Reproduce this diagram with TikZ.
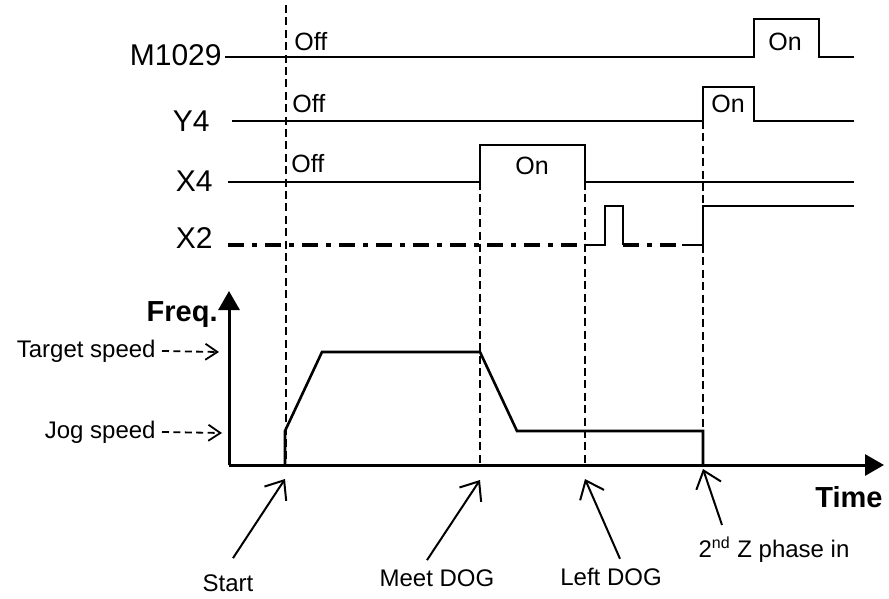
\documentclass[tikz,border=0pt]{standalone}
\usepackage{fontspec}
\setmainfont{Liberation Sans}
\usetikzlibrary{arrows.meta, positioning}

\begin{document}
\begin{tikzpicture}[
    x=0.5pt, y=-0.5pt,
    sig/.style={line width=1.1pt},
    axis/.style={line width=1.5pt, -{Triangle[length=9.5pt, width=10.5pt]}},
    guide/.style={line width=0.9pt, dash pattern=on 4pt off 2.2pt},
    dashdot/.style={line width=1.7pt, dash pattern=on 8pt off 4pt on 2.5pt off 4pt},
    pointer/.style={line width=1pt, -{Straight Barb[length=8pt, width=13pt]}},
    hint/.style={line width=0.9pt, dash pattern=on 3.5pt off 2.2pt, -{Straight Barb[length=6pt, width=8pt]}},
    signame/.style={font=\fontsize{15}{18}\selectfont, anchor=east, inner sep=0pt},
    state/.style={font=\fontsize{12.5}{14}\selectfont, inner sep=0pt},
    lbl/.style={font=\fontsize{12}{14}\selectfont, inner sep=0pt},
    axlbl/.style={font=\bfseries\fontsize{14.5}{17}\selectfont, anchor=east, inner sep=0pt}
]
\useasboundingbox (0,0) rectangle (889,599);

% signal names
\node[signame] (m1029) at (222,55) {M1029};
\node[signame] (y4) at (210,121) {Y4};
\node[signame] (x4) at (213,181) {X4};
\node[signame] (x2) at (213,238) {X2};

% states
\node[state, anchor=west] (m1029off) at (294,42) {Off};
\node[state, anchor=west] (y4off) at (292,104) {Off};
\node[state, anchor=west] (x4off) at (291,164) {Off};
\node[state] (m1029on) at (785,42) {On};
\node[state] (y4on) at (728,104) {On};
\node[state] (x4on) at (532,166) {On};

% time lines
\draw[guide] (286,5) -- (286,465);
\draw[guide] (480,182) -- (480,465);
\draw[guide] (585,182) -- (585,465);
\draw[guide] (703,121) -- (703,465);

% signals
\draw[sig] (225,57) -- (754,57) -- (754,19) -- (819,19) -- (819,57) -- (854,57);
\draw[sig] (232,121) -- (703,121) -- (703,87) -- (754,87) -- (754,121) -- (854,121);
\draw[sig] (228,182) -- (480,182) -- (480,145) -- (585,145) -- (585,182) -- (854,182);
\draw[dashdot] (228,245) -- (585,245);
\draw[sig] (585,245) -- (605,245) -- (605,206) -- (623,206) -- (623,245);
\draw[dashdot] (623,245) -- (682,245);
\draw[sig] (682,245) -- (703,245) -- (703,206) -- (854,206);

% frequency plot
\coordinate (origin) at (229,465);
\draw[axis] (origin) -- (229,291);
\draw[axis] (origin) -- (884,465);
\node[axlbl] (freq) at (218,315) {Freq.};
\node[axlbl] (time) at (883,497) {Time};
\draw[sig, line width=1.3pt] (285,465) -- (285,431) -- (322,352) -- (480,352)
    -- (517,431) -- (703,431) -- (703,465);

\node[lbl, anchor=east] (target) at (156,351) {Target speed};
\node[lbl, anchor=east] (jog) at (156,432) {Jog speed};
\coordinate (targettip) at (219,352);
\coordinate (jogtip) at (222,433);
\draw[hint] ([xshift=3pt]target.east) -- (targettip);
\draw[hint] ([xshift=3pt]jog.east) -- (jogtip);

% events
\node[lbl] (start) at (228,583) {Start};
\node[lbl] (meet) at (437,578) {Meet DOG};
\node[lbl] (left) at (611,577) {Left DOG};
\node[lbl] (zphase) at (774,550) {2\textsuperscript{nd} Z phase in};
\coordinate (starttip) at (285,479);
\coordinate (meettip) at (480,480);
\coordinate (lefttip) at (585,479);
\coordinate (ztip) at (703,469);
\draw[pointer] ([shift={(5,-16)}]start.north) -- (starttip);
\draw[pointer] ([shift={(-10,-9)}]meet.north) -- (meettip);
\draw[pointer] ([shift={(9,-9)}]left.north) -- (lefttip);
\draw[pointer] ([shift={(-52,-12)}]zphase.north) -- (ztip);

\end{tikzpicture}
\end{document}
